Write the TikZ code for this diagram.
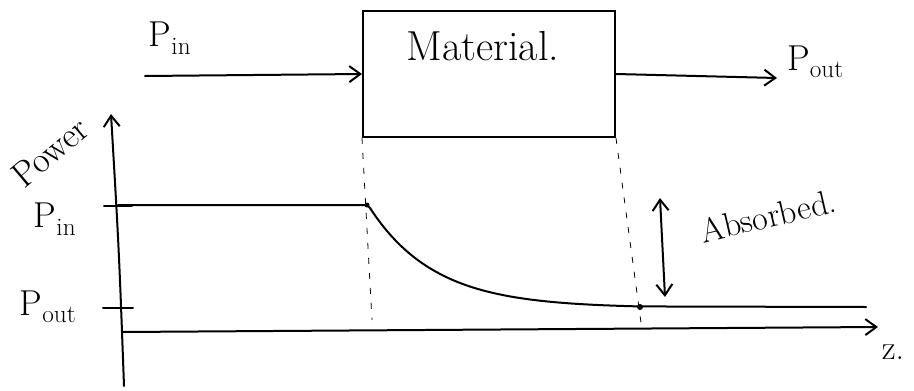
\documentclass[tikz,border=0pt]{standalone}
\usepackage{fontspec}
\setmainfont{Latin Modern Roman}
\usetikzlibrary{arrows.meta}
\newcommand{\pwr}[1]{P\textsubscript{#1}}
\begin{document}
\begin{tikzpicture}[x=1pt,y=-1pt,
  stroke/.style={line width=2pt,line cap=round},
  arr/.style={stroke,-{Straight Barb[length=11pt,width=16pt,line width=2pt]}},
  darr/.style={stroke,{Straight Barb[length=11pt,width=16pt,line width=2pt]}-{Straight Barb[length=11pt,width=16pt,line width=2pt]}},
  guide/.style={line width=0.8pt,dash pattern=on 6pt off 9pt},
  box/.style={draw,line width=2pt,minimum width=252pt,minimum height=126pt,inner sep=0pt},
  lbl/.style={font=\fontsize{42}{48}\selectfont,inner sep=1pt},
  tlbl/.style={font=\fontsize{34}{40}\selectfont,inner sep=1pt},
  plbl/.style={font=\fontsize{36}{42}\selectfont,inner sep=1pt}]
\useasboundingbox (0,0) rectangle (914,391);
% top row
\node (mat) [box] at (489,74) {};
\node (matlabel) [lbl] at (483,46) {Material.};
\coordinate (instart) at (145,76);
\coordinate (outend) at (777,78);
\draw[arr] (instart) -- (mat.west);
\draw[arr] (mat.east) -- (outend);
\node (pintop) [plbl] at (170,38) {\pwr{in}};
\node (pouttop) [plbl,anchor=west] at (786,62) {\pwr{out}};
% axes
\coordinate (yb) at (124,386);
\coordinate (yt) at (111,114);
\coordinate (zl) at (122,332);
\coordinate (zr) at (878,327);
\draw[arr] (yb) .. controls (119,250) .. (yt);
\draw[arr] (zl) -- (zr);
\node (power) [font=\fontsize{36}{42}\selectfont,inner sep=0pt,rotate=40] at (50,152) {Power};
\node (zlab) [tlbl] at (893,352) {z.};
% ticks and level labels
\coordinate (pint) at (104,206);
\coordinate (poutt) at (103,308);
\draw[stroke] (pint) -- (132,206);
\draw[stroke] (poutt) -- (133,308);
\node (pinlab) [plbl] at (55,219) {\pwr{in}};
\node (poutlab) [plbl] at (48,307) {\pwr{out}};
% power curve
\coordinate (c0) at (118,205);
\coordinate (c1) at (367,205);
\coordinate (c2) at (640,307);
\coordinate (c3) at (866,307);
\draw[stroke] (c0) -- (c1)
  -- plot[domain=370:640,samples=60,smooth] (\x,{308-100*exp(-(\x-370)/65)})
  -- (c3);
\fill (c1) circle (2.5pt);
\fill (c2) circle (3pt);
% guide lines
\draw[guide] (mat.south west) -- (372,320);
\draw[guide] (mat.south east) -- (642,330);
% absorbed
\coordinate (abt) at (660,198);
\coordinate (abb) at (665,297);
\draw[darr] (abt) -- (abb);
\node (abs) [tlbl,rotate=13] at (768,216) {Absorbed.};
\end{tikzpicture}
\end{document}
